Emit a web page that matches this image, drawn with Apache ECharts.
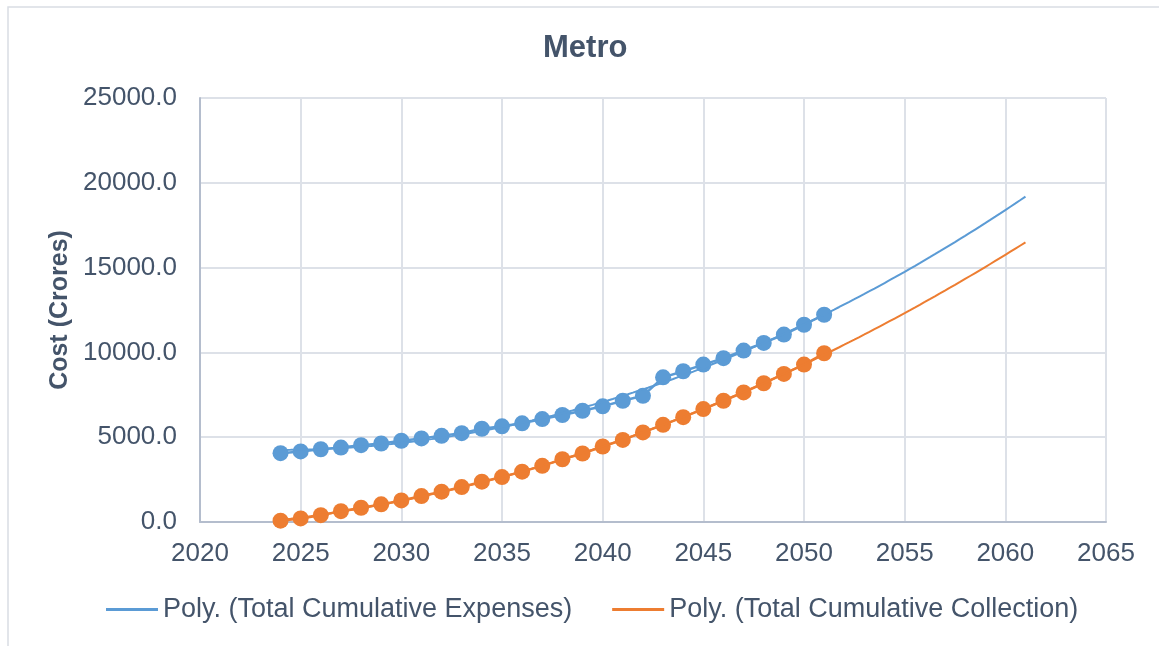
<!DOCTYPE html>
<html>
<head>
<meta charset="utf-8">
<title>Metro</title>
<script src="https://cdn.jsdelivr.net/npm/echarts@6/dist/echarts.min.js"></script>
<style>
  html, body { margin: 0; padding: 0; background: #ffffff; }
  #chart { width: 1159px; height: 646px; }
</style>
</head>
<body>
<div id="chart"></div>
<script>
// Years of the yearly cost figures
const years = [2024, 2025, 2026, 2027, 2028, 2029, 2030, 2031, 2032, 2033, 2034, 2035, 2036, 2037,
               2038, 2039, 2040, 2041, 2042, 2043, 2044, 2045, 2046, 2047, 2048, 2049, 2050, 2051];

// Total cumulative expenses (Crores)
const expenses = [4060, 4160, 4290, 4390, 4530, 4630, 4790, 4930, 5080, 5240, 5500, 5640, 5820, 6070,
                  6310, 6560, 6820, 7150, 7440, 8530, 8890, 9280, 9660, 10110, 10560, 11050, 11630, 12220];

// Total cumulative collection (Crores)
const collection = [80, 210, 400, 640, 840, 1040, 1270, 1530, 1790, 2060, 2380, 2650, 2970, 3310,
                    3700, 4040, 4450, 4840, 5280, 5730, 6180, 6660, 7150, 7640, 8180, 8730, 9280, 9950];

// Trendline reach: last forecast year
const trendEndYear = 2061;

const seriesNames = ['Total Cumulative Expenses', 'Total Cumulative Collection'];
const trendNames = ['Poly. (Total Cumulative Expenses)', 'Poly. (Total Cumulative Collection)'];

const BLUE = '#5B9BD5';
const ORANGE = '#ED7D31';
const TEXT = '#44546A';
const FONT = '"Liberation Sans", Arial, sans-serif';

// Least-squares fit of a second-order polynomial y = a + b*t + c*t^2
function polyFit2(xs, ys) {
  const x0 = xs[0];
  let s = [0, 0, 0, 0, 0], r = [0, 0, 0];
  xs.forEach((x, i) => {
    const t = x - x0;
    let p = 1;
    for (let k = 0; k <= 4; k++) { s[k] += p; p *= t; }
    r[0] += ys[i]; r[1] += ys[i] * t; r[2] += ys[i] * t * t;
  });
  const M = [[s[0], s[1], s[2], r[0]], [s[1], s[2], s[3], r[1]], [s[2], s[3], s[4], r[2]]];
  for (let i = 0; i < 3; i++) {
    for (let j = i + 1; j < 3; j++) {
      const f = M[j][i] / M[i][i];
      for (let k = i; k < 4; k++) M[j][k] -= f * M[i][k];
    }
  }
  const c = [0, 0, 0];
  for (let i = 2; i >= 0; i--) {
    let v = M[i][3];
    for (let k = i + 1; k < 3; k++) v -= M[i][k] * c[k];
    c[i] = v / M[i][i];
  }
  return t => c[0] + c[1] * t + c[2] * t * t;
}

function trendPoints(xs, ys) {
  const f = polyFit2(xs, ys);
  const pts = [];
  for (let x = xs[0]; x <= trendEndYear + 1e-9; x += 0.25) pts.push([x, f(x - xs[0])]);
  return pts;
}

const pairs = (xs, ys) => xs.map((x, i) => [x, ys[i]]);

const chart = echarts.init(document.getElementById('chart'), null, { renderer: 'canvas' });

chart.setOption({
  backgroundColor: '#ffffff',
  animation: false,
  textStyle: { fontFamily: FONT, color: TEXT },
  graphic: [{
    type: 'rect',
    silent: true,
    shape: { x: 8, y: 7, width: 1220, height: 720 },
    style: { fill: 'none', stroke: '#D9DDE4', lineWidth: 1.5 }
  }],
  title: {
    text: 'Metro',
    left: 538,
    top: 28,
    textStyle: { fontFamily: FONT, fontSize: 31, fontWeight: 'bold', color: TEXT }
  },
  legend: {
    data: trendNames,
    left: 106,
    top: 596,
    padding: 0,
    itemWidth: 52,
    itemHeight: 3,
    itemGap: 40,
    icon: 'rect',
    textStyle: { fontFamily: FONT, fontSize: 27, color: TEXT }
  },
  grid: { left: 200, right: 53, top: 98, bottom: 124, containLabel: false },
  xAxis: {
    type: 'value',
    min: 2020,
    max: 2065,
    interval: 5,
    axisLine: { show: true, lineStyle: { color: '#B4BDCD', width: 2 } },
    axisTick: { show: false },
    axisLabel: {
      fontFamily: FONT, fontSize: 26, color: TEXT, margin: 19,
      formatter: v => String(v)
    },
    splitLine: { show: true, lineStyle: { color: '#DDE1E8', width: 2 } }
  },
  yAxis: {
    type: 'value',
    min: 0,
    max: 25000,
    interval: 5000,
    name: 'Cost (Crores)',
    nameLocation: 'middle',
    nameGap: 127,
    nameTextStyle: { fontFamily: FONT, fontSize: 25, fontWeight: 'bold', color: TEXT },
    axisLine: { show: true, lineStyle: { color: '#B4BDCD', width: 2 } },
    axisTick: { show: false },
    axisLabel: {
      fontFamily: FONT, fontSize: 26, color: TEXT, margin: 23,
      formatter: v => v.toFixed(1)
    },
    splitLine: { show: true, lineStyle: { color: '#DDE1E8', width: 2 } }
  },
  series: [
    {
      name: seriesNames[0],
      type: 'line',
      data: pairs(years, expenses),
      symbol: 'circle',
      symbolSize: 16,
      itemStyle: { color: BLUE },
      lineStyle: { color: BLUE, width: 2.5 },
      z: 2
    },
    {
      name: seriesNames[1],
      type: 'line',
      data: pairs(years, collection),
      symbol: 'circle',
      symbolSize: 16,
      itemStyle: { color: ORANGE },
      lineStyle: { color: ORANGE, width: 2.5 },
      z: 2
    },
    {
      name: trendNames[0],
      type: 'line',
      data: trendPoints(years, expenses),
      showSymbol: false,
      symbol: 'none',
      itemStyle: { color: BLUE },
      lineStyle: { color: BLUE, width: 2 },
      z: 5
    },
    {
      name: trendNames[1],
      type: 'line',
      data: trendPoints(years, collection),
      showSymbol: false,
      symbol: 'none',
      itemStyle: { color: ORANGE },
      lineStyle: { color: ORANGE, width: 2 },
      z: 5
    }
  ]
});
</script>
</body>
</html>
